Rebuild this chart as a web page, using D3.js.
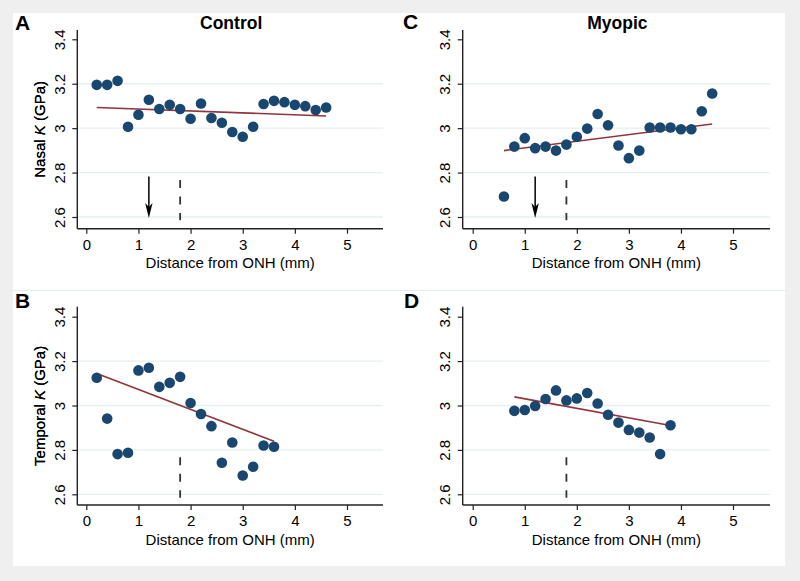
<!DOCTYPE html>
<html><head><meta charset="utf-8">
<script src="https://cdn.jsdelivr.net/npm/d3@7"></script>
<style>
body{margin:0;background:#efefef}
svg{display:block}
text{font-family:"Liberation Sans",Arial,Helvetica,sans-serif;fill:#000}
</style>
</head><body>
<svg id="chart" width="800" height="581"></svg>
<script>
// ---------- data ----------
const xTicks = [0, 1, 2, 3, 4, 5];
const yTicks = [2.6, 2.8, 3.0, 3.2, 3.4];
const yTickLabels = ["2.6", "2.8", "3", "3.2", "3.4"];
const xTitle = "Distance from ONH (mm)";

const controlNasalX = [0.2,0.4,0.6,0.8,1.0,1.2,1.4,1.6,1.8,2.0,2.2,2.4,2.6,2.8,3.0,3.2,3.4,3.6,3.8,4.0,4.2,4.4,4.6];
const controlNasalY = [3.195,3.195,3.213,3.006,3.060,3.128,3.086,3.105,3.086,3.042,3.111,3.046,3.024,2.983,2.961,3.006,3.109,3.123,3.117,3.105,3.099,3.082,3.093];
const controlNasalFitX = [0.2, 4.6];
const controlNasalFitY = [3.093, 3.055];

const myopicNasalX = [0.6,0.8,1.0,1.2,1.4,1.6,1.8,2.0,2.2,2.4,2.6,2.8,3.0,3.2,3.4,3.6,3.8,4.0,4.2,4.4,4.6];
const myopicNasalY = [2.692,2.917,2.955,2.910,2.917,2.899,2.926,2.961,2.998,3.064,3.013,2.922,2.865,2.899,3.003,3.003,3.003,2.995,2.995,3.076,3.156];
const myopicNasalFitX = [0.6, 4.6];
const myopicNasalFitY = [2.899, 3.019];

const controlTemporalX = [0.2,0.4,0.6,0.8,1.0,1.2,1.4,1.6,1.8,2.0,2.2,2.4,2.6,2.8,3.0,3.2,3.4,3.6];
const controlTemporalY = [3.125,2.941,2.781,2.787,3.158,3.170,3.084,3.102,3.129,3.011,2.962,2.907,2.742,2.833,2.685,2.724,2.820,2.814];
const controlTemporalFitX = [0.2, 3.6];
const controlTemporalFitY = [3.144, 2.839];

const myopicTemporalX = [0.8,1.0,1.2,1.4,1.6,1.8,2.0,2.2,2.4,2.6,2.8,3.0,3.2,3.4,3.6,3.8];
const myopicTemporalY = [2.976,2.980,2.998,3.029,3.068,3.023,3.032,3.056,3.009,2.958,2.923,2.890,2.878,2.856,2.781,2.911];
const myopicTemporalFitX = [0.8, 3.8];
const myopicTemporalFitY = [3.039, 2.910];

const cutoffX = 1.8;
const cutoffY = [2.767, 2.585];
const arrowX = 1.2;
const arrowY = [2.782, 2.595];

const panels = [
  {letter:"A", title:"Control", ylab:"Nasal", xs:controlNasalX, ys:controlNasalY, fx:controlNasalFitX, fy:controlNasalFitY, arrow:true},
  {letter:"C", title:"Myopic", ylab:"Nasal", xs:myopicNasalX, ys:myopicNasalY, fx:myopicNasalFitX, fy:myopicNasalFitY, arrow:true},
  {letter:"B", title:"", ylab:"Temporal", xs:controlTemporalX, ys:controlTemporalY, fx:controlTemporalFitX, fy:controlTemporalFitY, arrow:false},
  {letter:"D", title:"", ylab:"Temporal", xs:myopicTemporalX, ys:myopicTemporalY, fx:myopicTemporalFitX, fy:myopicTemporalFitY, arrow:false}
];

// ---------- layout ----------
const layouts = [
  {left:77.3, right:383, top:30, bottom:228.7, x0:86.3, x5:347, y26:217, y34:39.3, lx:15, ly:30},
  {left:462.7, right:770, top:30, bottom:228.7, x0:472.7, x5:733, y26:217, y34:39.3, lx:403, ly:29},
  {left:77.3, right:383, top:306.7, bottom:505, x0:86.3, x5:347, y26:494.3, y34:316.7, lx:15, ly:308},
  {left:462.7, right:770, top:306.7, bottom:505, x0:472.7, x5:733, y26:494.3, y34:316.7, lx:404, ly:308}
];

const svg = d3.select("#chart");
svg.append("rect").attr("x",0).attr("y",0).attr("width",800).attr("height",581).attr("fill","#efefef");
svg.append("rect").attr("x",13).attr("y",13).attr("width",772).attr("height",277).attr("fill","#ffffff");
svg.append("rect").attr("x",13).attr("y",290).attr("width",772).attr("height",276).attr("fill","#ffffff");
svg.append("line").attr("x1",13).attr("x2",785).attr("y1",290.5).attr("y2",290.5).attr("stroke","#e2ecf0").attr("stroke-width",1);

const navy = "#1a476f", maroon = "#90353b", axisCol = "#222";

panels.forEach((p, i) => {
  const L = layouts[i];
  const x = d3.scaleLinear().domain([0,5]).range([L.x0, L.x5]);
  const y = d3.scaleLinear().domain([2.6,3.4]).range([L.y26, L.y34]);
  const g = svg.append("g");

  // grid lines (not at top tick)
  g.selectAll(".grid").data(yTicks.filter(t => t < 3.35)).enter().append("line")
    .attr("x1", L.left).attr("x2", L.right)
    .attr("y1", d => y(d)).attr("y2", d => y(d))
    .attr("stroke", "#e6eff2").attr("stroke-width", 1.3);

  // x axis
  const xa = g.append("g").attr("transform", `translate(0,${L.bottom})`)
    .call(d3.axisBottom(x).tickValues(xTicks).tickSize(5).tickFormat(d3.format("d")));
  xa.select(".domain").remove();
  xa.selectAll(".tick line").attr("stroke", axisCol).attr("stroke-width", 1.2);
  xa.selectAll(".tick text").attr("y", 21.3).attr("dy", 0)
    .style("font-size", "15px").style("font-family", '"Liberation Sans",Arial,sans-serif').attr("fill", "#000");
  g.append("line").attr("x1", L.left).attr("x2", L.right).attr("y1", L.bottom).attr("y2", L.bottom)
    .attr("stroke", axisCol).attr("stroke-width", 1.4);

  // y axis
  const ya = g.append("g").attr("transform", `translate(${L.left},0)`)
    .call(d3.axisLeft(y).tickValues(yTicks).tickSize(5).tickFormat((d, k) => yTickLabels[k]));
  ya.select(".domain").remove();
  ya.selectAll(".tick line").attr("stroke", axisCol).attr("stroke-width", 1.2);
  ya.selectAll(".tick text")
    .attr("transform", "rotate(-90)")
    .attr("x", 0).attr("y", -12.3).attr("dy", 0)
    .attr("text-anchor", "middle")
    .style("font-size", "15px").style("font-family", '"Liberation Sans",Arial,sans-serif').attr("fill", "#000");
  g.append("line").attr("x1", L.left).attr("x2", L.left).attr("y1", L.top).attr("y2", L.bottom)
    .attr("stroke", axisCol).attr("stroke-width", 1.4);

  // axis titles
  const cx = (L.left + L.right) / 2;
  g.append("text").attr("x", cx).attr("y", L.bottom + 39.5).attr("text-anchor", "middle")
    .style("font-size", "15px").text(xTitle);
  const cy = (L.top + L.bottom) / 2;
  const yt = g.append("text").attr("transform", `translate(45,${cy}) rotate(-90)`)
    .attr("text-anchor", "middle").style("font-size", "15px");
  yt.append("tspan").text(p.ylab + " ");
  yt.append("tspan").style("font-style", "italic").text("K");
  yt.append("tspan").text(" (GPa)");

  // panel letter and title
  g.append("text").attr("x", L.lx).attr("y", L.ly).style("font-size", "21px").style("font-weight", "bold").text(p.letter);
  if (p.title) {
    g.append("text").attr("x", cx + 1).attr("y", 29).attr("text-anchor", "middle")
      .style("font-size", "17.5px").style("font-weight", "bold").text(p.title);
  }

  // cutoff dashed line
  g.append("line").attr("x1", x(cutoffX)).attr("x2", x(cutoffX))
    .attr("y1", y(cutoffY[0])).attr("y2", y(cutoffY[1]))
    .attr("stroke", "#333").attr("stroke-width", 1.8).attr("stroke-dasharray", "8,8.5");

  // arrow
  if (p.arrow) {
    const ax = x(arrowX), ay0 = y(arrowY[0]), ay1 = y(arrowY[1]);
    g.append("line").attr("x1", ax).attr("x2", ax).attr("y1", ay0).attr("y2", ay1 - 8)
      .attr("stroke", "#000").attr("stroke-width", 1.5);
    g.append("path")
      .attr("d", `M${ax},${ay1} L${ax - 3.7},${ay1 - 15} L${ax},${ay1 - 11} L${ax + 3.7},${ay1 - 15} Z`)
      .attr("fill", "#000");
  }

  // fit line
  g.append("line").attr("x1", x(p.fx[0])).attr("x2", x(p.fx[1]))
    .attr("y1", y(p.fy[0])).attr("y2", y(p.fy[1]))
    .attr("stroke", maroon).attr("stroke-width", 1.6);

  // points
  g.selectAll(".pt").data(p.xs.map((v, k) => [v, p.ys[k]])).enter().append("circle")
    .attr("cx", d => x(d[0])).attr("cy", d => y(d[1])).attr("r", 5.3).attr("fill", navy);
});
</script>
</body></html>
